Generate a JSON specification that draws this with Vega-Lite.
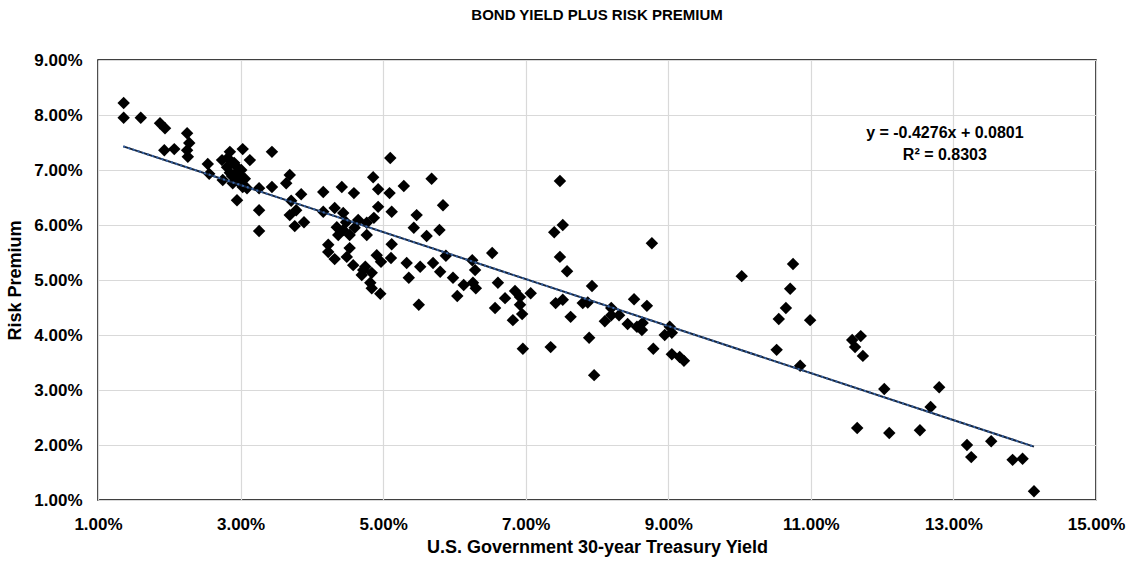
{
  "$schema": "https://vega.github.io/schema/vega-lite/v6.json",
  "width": 998,
  "height": 440,
  "autosize": {"type": "none"},
  "padding": {"left": 98, "top": 60, "right": 33, "bottom": 69},
  "background": "white",
  "config": {
    "font": "Liberation Sans",
    "view": {"stroke": "#000000", "strokeWidth": 1.5},
    "axis": {"labelFont": "Liberation Sans", "titleFont": "Liberation Sans", "labelFontWeight": "bold", "titleFontWeight": "bold", "labelColor": "#000000", "titleColor": "#000000", "labelFontSize": 17, "titleFontSize": 18, "ticks": false, "domain": false, "gridColor": "#d9d9d9", "gridWidth": 1.2}
  },
  "title": {"text": "BOND YIELD PLUS RISK PREMIUM", "font": "Liberation Sans", "fontSize": 15, "fontWeight": "bold", "color": "#000000", "anchor": "middle", "offset": 28},
  "datasets": {
    "points": [
      {"yield": 1.36, "premium": 8.22}, {"yield": 1.36, "premium": 7.95}, {"yield": 1.60, "premium": 7.95}, {"yield": 1.87, "premium": 7.85},
      {"yield": 1.94, "premium": 7.76}, {"yield": 2.25, "premium": 7.67}, {"yield": 2.28, "premium": 7.49}, {"yield": 2.25, "premium": 7.36},
      {"yield": 2.26, "premium": 7.24}, {"yield": 1.93, "premium": 7.36}, {"yield": 2.07, "premium": 7.38}, {"yield": 2.54, "premium": 7.11},
      {"yield": 2.56, "premium": 6.93}, {"yield": 2.85, "premium": 7.33}, {"yield": 3.03, "premium": 7.38}, {"yield": 3.13, "premium": 7.18},
      {"yield": 2.74, "premium": 7.18}, {"yield": 2.81, "premium": 7.05}, {"yield": 2.85, "premium": 6.95}, {"yield": 2.95, "premium": 6.96},
      {"yield": 2.96, "premium": 6.80}, {"yield": 3.03, "premium": 6.69}, {"yield": 2.75, "premium": 6.82}, {"yield": 2.89, "premium": 6.76},
      {"yield": 2.95, "premium": 6.45}, {"yield": 3.26, "premium": 6.67}, {"yield": 3.09, "premium": 6.67}, {"yield": 3.44, "premium": 6.69},
      {"yield": 3.44, "premium": 7.33}, {"yield": 3.26, "premium": 6.27}, {"yield": 3.26, "premium": 5.89}, {"yield": 2.92, "premium": 7.09},
      {"yield": 2.99, "premium": 6.91}, {"yield": 2.82, "premium": 7.22}, {"yield": 3.06, "premium": 6.84}, {"yield": 2.91, "premium": 7.13},
      {"yield": 3.01, "premium": 7.00}, {"yield": 2.88, "premium": 6.89},
      {"yield": 3.69, "premium": 6.91}, {"yield": 3.64, "premium": 6.76}, {"yield": 3.85, "premium": 6.56}, {"yield": 3.71, "premium": 6.44},
      {"yield": 3.78, "premium": 6.27}, {"yield": 3.69, "premium": 6.18}, {"yield": 3.76, "premium": 5.98}, {"yield": 3.89, "premium": 6.05},
      {"yield": 4.16, "premium": 6.60}, {"yield": 4.42, "premium": 6.69}, {"yield": 4.59, "premium": 6.58}, {"yield": 4.86, "premium": 6.87},
      {"yield": 4.93, "premium": 6.65}, {"yield": 4.93, "premium": 6.33}, {"yield": 4.87, "premium": 6.13}, {"yield": 4.16, "premium": 6.24},
      {"yield": 4.32, "premium": 6.31}, {"yield": 4.44, "premium": 6.22}, {"yield": 4.65, "premium": 6.09}, {"yield": 4.77, "premium": 6.04},
      {"yield": 4.35, "premium": 5.96}, {"yield": 4.44, "premium": 5.91}, {"yield": 4.53, "premium": 5.82}, {"yield": 4.37, "premium": 5.82},
      {"yield": 4.23, "premium": 5.64}, {"yield": 4.23, "premium": 5.51}, {"yield": 4.53, "premium": 5.58}, {"yield": 4.32, "premium": 5.38},
      {"yield": 4.49, "premium": 5.42}, {"yield": 4.58, "premium": 5.27}, {"yield": 4.75, "premium": 5.24}, {"yield": 4.91, "premium": 5.45},
      {"yield": 4.77, "premium": 5.82}, {"yield": 4.72, "premium": 5.18}, {"yield": 4.70, "premium": 5.09}, {"yield": 4.84, "premium": 5.13},
      {"yield": 4.82, "premium": 4.95}, {"yield": 4.84, "premium": 4.85}, {"yield": 4.96, "premium": 4.75}, {"yield": 4.48, "premium": 6.05},
      {"yield": 4.60, "premium": 5.95},
      {"yield": 5.10, "premium": 7.22}, {"yield": 5.09, "premium": 6.58}, {"yield": 5.29, "premium": 6.71}, {"yield": 5.68, "premium": 6.84},
      {"yield": 5.84, "premium": 6.36}, {"yield": 5.47, "premium": 6.18}, {"yield": 5.43, "premium": 5.95}, {"yield": 5.61, "premium": 5.80},
      {"yield": 5.79, "premium": 5.91}, {"yield": 5.12, "premium": 6.24}, {"yield": 5.12, "premium": 5.65}, {"yield": 4.97, "premium": 5.33},
      {"yield": 5.11, "premium": 5.40}, {"yield": 5.33, "premium": 5.31}, {"yield": 5.52, "premium": 5.24}, {"yield": 5.36, "premium": 5.04},
      {"yield": 5.50, "premium": 4.55}, {"yield": 5.70, "premium": 5.31}, {"yield": 5.80, "premium": 5.15}, {"yield": 5.88, "premium": 5.44},
      {"yield": 5.98, "premium": 5.04}, {"yield": 6.04, "premium": 4.71}, {"yield": 6.13, "premium": 4.91}, {"yield": 6.25, "premium": 5.36},
      {"yield": 6.29, "premium": 5.18}, {"yield": 6.30, "premium": 4.85}, {"yield": 6.26, "premium": 4.95}, {"yield": 6.53, "premium": 5.49},
      {"yield": 6.61, "premium": 4.95}, {"yield": 6.57, "premium": 4.49}, {"yield": 6.71, "premium": 4.67}, {"yield": 6.85, "premium": 4.80},
      {"yield": 6.92, "premium": 4.69}, {"yield": 7.07, "premium": 4.76}, {"yield": 6.92, "premium": 4.55}, {"yield": 6.95, "premium": 4.38},
      {"yield": 6.82, "premium": 4.27}, {"yield": 6.96, "premium": 3.75}, {"yield": 7.35, "premium": 3.78}, {"yield": 7.48, "premium": 6.80},
      {"yield": 7.52, "premium": 6.00}, {"yield": 7.40, "premium": 5.87}, {"yield": 7.48, "premium": 5.42}, {"yield": 7.58, "premium": 5.16},
      {"yield": 7.42, "premium": 4.58}, {"yield": 7.52, "premium": 4.64}, {"yield": 7.63, "premium": 4.33}, {"yield": 7.80, "premium": 4.58},
      {"yield": 7.87, "premium": 4.59}, {"yield": 7.93, "premium": 4.89}, {"yield": 7.89, "premium": 3.95}, {"yield": 7.96, "premium": 3.27},
      {"yield": 8.20, "premium": 4.49}, {"yield": 8.11, "premium": 4.25}, {"yield": 8.20, "premium": 4.36}, {"yield": 8.31, "premium": 4.36},
      {"yield": 8.52, "premium": 4.65}, {"yield": 8.70, "premium": 4.53}, {"yield": 8.43, "premium": 4.20}, {"yield": 8.56, "premium": 4.15},
      {"yield": 8.64, "premium": 4.22}, {"yield": 8.63, "premium": 4.09}, {"yield": 8.77, "premium": 5.67}, {"yield": 8.79, "premium": 3.75},
      {"yield": 8.95, "premium": 4.00}, {"yield": 9.05, "premium": 4.04}, {"yield": 9.02, "premium": 4.15}, {"yield": 9.05, "premium": 3.65},
      {"yield": 9.16, "premium": 3.60}, {"yield": 9.22, "premium": 3.53},
      {"yield": 10.03, "premium": 5.07}, {"yield": 10.75, "premium": 5.29}, {"yield": 10.71, "premium": 4.84}, {"yield": 10.65, "premium": 4.49},
      {"yield": 10.55, "premium": 4.29}, {"yield": 10.99, "premium": 4.27}, {"yield": 10.52, "premium": 3.73}, {"yield": 10.85, "premium": 3.44},
      {"yield": 11.58, "premium": 3.91}, {"yield": 11.70, "premium": 3.98}, {"yield": 11.62, "premium": 3.78}, {"yield": 11.73, "premium": 3.62},
      {"yield": 12.03, "premium": 3.02}, {"yield": 12.80, "premium": 3.05}, {"yield": 12.68, "premium": 2.69}, {"yield": 11.65, "premium": 2.31},
      {"yield": 12.10, "premium": 2.22}, {"yield": 12.53, "premium": 2.27}, {"yield": 13.19, "premium": 2.00}, {"yield": 13.25, "premium": 1.78},
      {"yield": 13.53, "premium": 2.07}, {"yield": 13.83, "premium": 1.73}, {"yield": 13.97, "premium": 1.75}, {"yield": 14.13, "premium": 1.16}
    ],
    "trend": [
      {"yield": 1.355, "premium": 7.43},
      {"yield": 14.13, "premium": 1.97}
    ],
    "labels": [
      {"yield": 12.88, "premium": 7.67, "text": "y = -0.4276x + 0.0801"},
      {"yield": 12.88, "premium": 7.28, "text": "R² = 0.8303"}
    ]
  },
  "layer": [
    {
      "data": {"name": "points"},
      "mark": {"type": "point", "shape": "diamond", "filled": true, "size": 155, "color": "#000000", "opacity": 1},
      "encoding": {
        "x": {"field": "yield", "type": "quantitative", "scale": {"domain": [1, 15], "nice": false, "zero": false}, "axis": {"values": [1, 3, 5, 7, 9, 11, 13, 15], "labelExpr": "format(datum.value / 100, '.2%')", "title": "U.S. Government 30-year Treasury Yield", "labelPadding": 16.5, "titlePadding": 6, "labelFlush": false}},
        "y": {"field": "premium", "type": "quantitative", "scale": {"domain": [1, 9], "nice": false, "zero": false}, "axis": {"values": [1, 2, 3, 4, 5, 6, 7, 8, 9], "labelExpr": "format(datum.value / 100, '.2%')", "title": "Risk Premium", "labelPadding": 16, "titlePadding": 9}}
      }
    },
    {
      "data": {"name": "trend"},
      "mark": {"type": "line", "color": "#14243d", "strokeWidth": 2},
      "encoding": {"x": {"field": "yield", "type": "quantitative"}, "y": {"field": "premium", "type": "quantitative"}}
    },
    {
      "data": {"name": "trend"},
      "mark": {"type": "line", "color": "#3a66a8", "strokeWidth": 2, "strokeDash": [2, 3]},
      "encoding": {"x": {"field": "yield", "type": "quantitative"}, "y": {"field": "premium", "type": "quantitative"}}
    },
    {
      "data": {"name": "labels"},
      "mark": {"type": "text", "font": "Liberation Sans", "fontSize": 16, "fontWeight": "bold", "color": "#000000", "align": "center", "baseline": "middle"},
      "encoding": {"x": {"field": "yield", "type": "quantitative"}, "y": {"field": "premium", "type": "quantitative"}, "text": {"field": "text"}}
    }
  ]
}
